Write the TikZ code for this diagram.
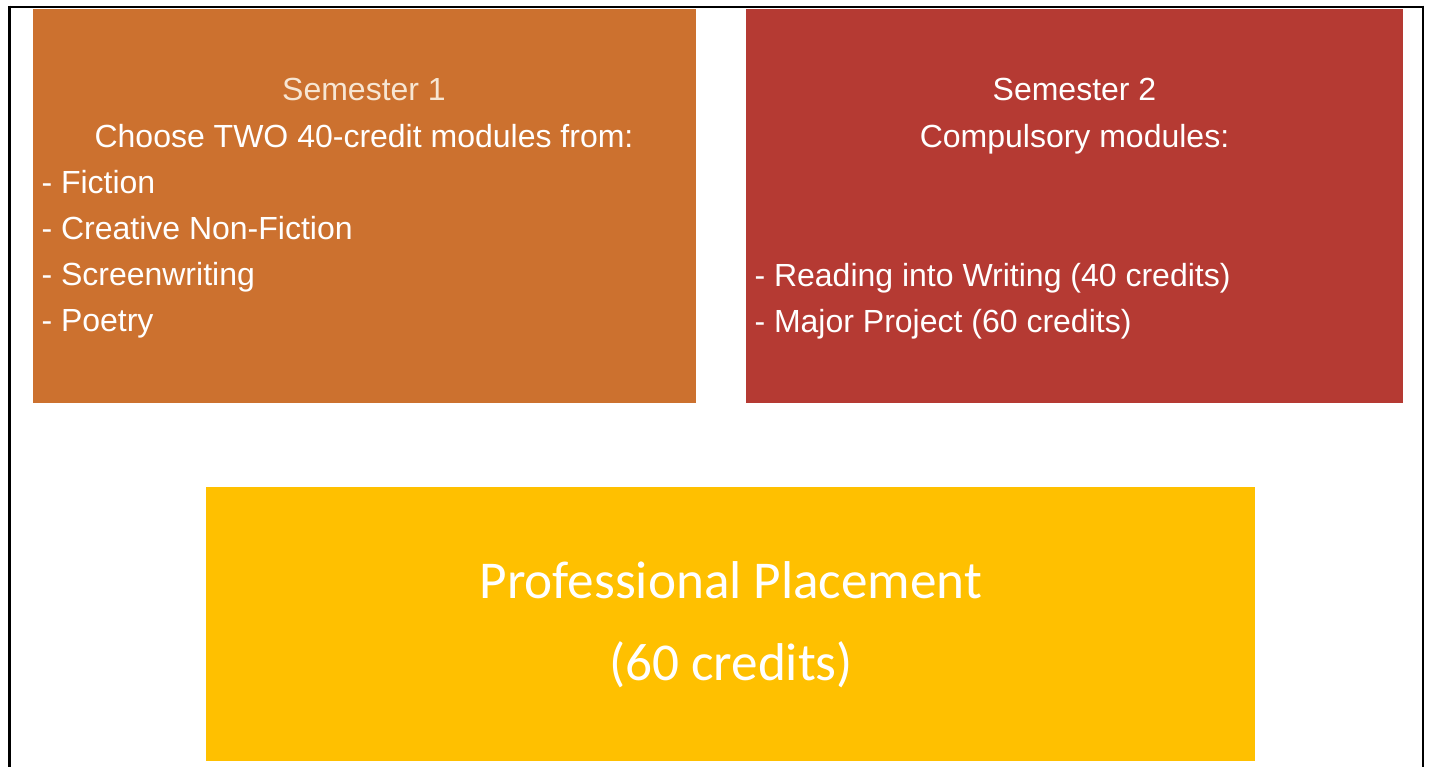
\documentclass[tikz,border=0pt]{standalone}
\usepackage{fontspec}
\setmainfont{Liberation Sans}
\newfontfamily\calib{Carlito}
\definecolor{sorange}{HTML}{CC712F}
\definecolor{sred}{HTML}{B53A33}
\definecolor{syellow}{HTML}{FFC000}
\definecolor{cream}{HTML}{F7E6D3}
\begin{document}
\begin{tikzpicture}[x=0.75pt,y=-0.75pt,
  box/.style={draw=none,inner sep=0pt,outer sep=0pt},
  txt/.style={inner sep=0pt,outer sep=0pt,text=white,font=\fontsize{24pt}{28pt}\selectfont},
  bigtxt/.style={inner sep=0pt,outer sep=0pt,text=white,font=\calib\fontsize{39.9pt}{46pt}\selectfont},
  frameline/.style={line width=2.2pt,black}]
\useasboundingbox (0,0) rectangle (1429,767);
% frame
\coordinate (tl) at (8,7);
\coordinate (tr) at (1424,7);
\draw[black,line width=1.1pt] (tl) -- (tr);
\draw[black,line width=2pt] (8,7) -- (30,7);
\draw[black,line width=2pt] (700,7) -- (743,7);
\draw[black,line width=2pt] (1407,7) -- (1424,7);
\draw[frameline] (9.5,5.7) -- (9.5,767);
\draw[frameline] (1423,5.7) -- (1423,767);
% boxes
\node[box,fill=sorange,minimum width=497.25pt,minimum height=295.5pt] (s1) at (364.5,206) {};
\node[box,fill=sred,minimum width=492.75pt,minimum height=295.5pt] (s2) at (1074.5,206) {};
\node[box,fill=syellow,minimum width=786.75pt,minimum height=205.5pt] (pp) at (730.5,624) {};
% semester 1 text
\node[txt,text=cream,anchor=base] (s1a) at (364,101) {Semester 1};
\node[txt,anchor=base] (s1b) at (364,147) {Choose TWO 40-credit modules from:};
\node[txt,anchor=base west] (s1c) at (41.5,193) {- Fiction};
\node[txt,anchor=base west] (s1d) at (41.5,239) {- Creative Non-Fiction};
\node[txt,anchor=base west] (s1e) at (41.5,285) {- Screenwriting};
\node[txt,anchor=base west] (s1f) at (41.5,331) {- Poetry};
% semester 2 text
\node[txt,anchor=base] (s2a) at (1074.5,101) {Semester 2};
\node[txt,anchor=base] (s2b) at (1074.5,147) {Compulsory modules:};
\node[txt,anchor=base west] (s2c) at (754.5,286) {- Reading into Writing (40 credits)};
\node[txt,anchor=base west] (s2d) at (754.5,332) {- Major Project (60 credits)};
% placement text
\node[bigtxt,anchor=base] (ppa) at (731,598) {Professional Placement};
\node[bigtxt,anchor=base] (ppb) at (731,680) {(60 credits)};
\end{tikzpicture}
\end{document}
